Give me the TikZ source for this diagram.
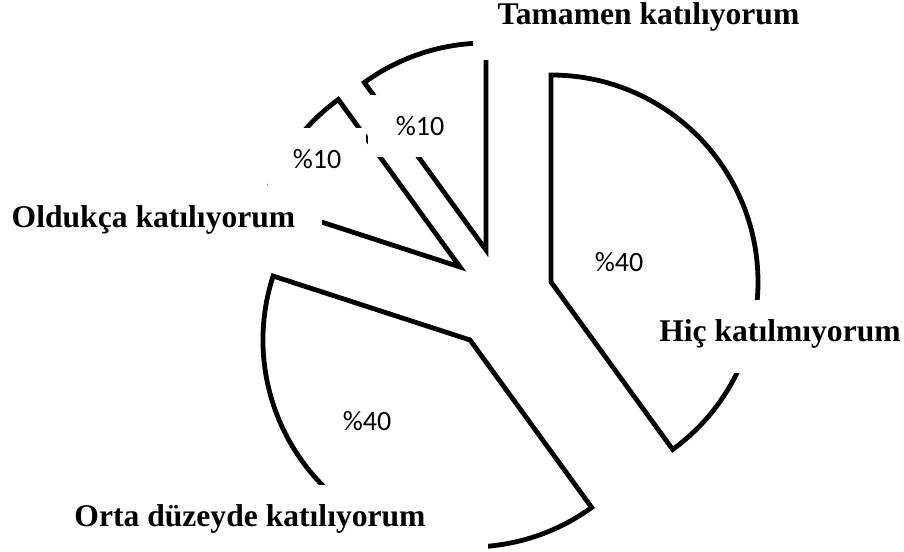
\documentclass[tikz,border=0pt]{standalone}
\usepackage{fontspec}
\setmainfont{Liberation Serif}
\newfontfamily\pctfont{Carlito}
\usepackage{tikz}

\begin{document}
\begin{tikzpicture}[x=1pt,y=1pt,
  slice/.style={draw=black,line width=4.8pt,line join=miter},
  lbl/.style={fill=white,inner sep=0pt,anchor=base,font=\fontsize{31.6}{36}\selectfont\bfseries},
  pct/.style={fill=white,inner sep=0pt,font=\pctfont\fontsize{28}{32}\selectfont}]
\useasboundingbox (0,0) rectangle (904,551);
\coordinate (hic) at (551,269);
\coordinate (orta) at (470,211);
\coordinate (olduk) at (460,284);
\coordinate (tam) at (486,301);
\draw[slice] (hic) -- ++(90:207) arc (90:-54:207) -- cycle;
\draw[slice] (orta) -- ++(162:207) arc (162:306:207) -- cycle;
\draw[slice] (olduk) -- ++(126:207) arc (126:162:207) -- cycle;
\draw[slice] (tam) -- ++(90:207) arc (90:126:207) -- cycle;
\node[lbl,minimum width=351pt,text height=30pt,text depth=35pt] (l-tam) at (648.5,526) {Tamamen katılıyorum};
\node[lbl,minimum width=337pt,text height=43pt,text depth=22pt] (l-olduk) at (153.5,323) {Oldukça katılıyorum};
\node[lbl,minimum width=260pt,text height=42pt,text depth=31pt] (l-hic) at (780,209) {Hiç katılmıyorum};
\node[lbl,minimum width=476pt,text height=42pt,text depth=29pt] (l-orta) at (250,24) {Orta düzeyde katılıyorum};
\node[pct,minimum width=104pt,minimum height=62pt] (p-tam) at (420,425) {\%10};
\node[pct,minimum width=98pt,minimum height=63pt] (p-olduk) at (317,391.5) {\%10};
\node[pct] (p-hic) at (619,289) {\%40};
\node[pct] (p-orta) at (367,130) {\%40};
\end{tikzpicture}
\end{document}
